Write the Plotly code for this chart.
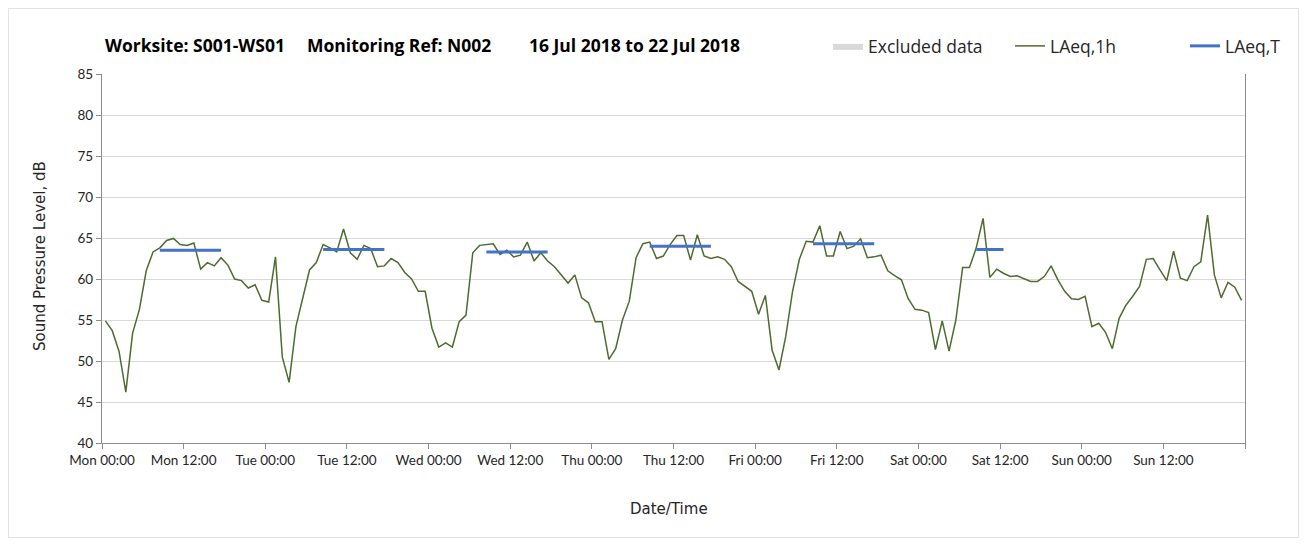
import datetime as dt
import plotly.graph_objects as go

# Hourly LAeq,1h values (dB), one list per day, hour 00..23
mon = [54.9, 53.7, 51.2, 46.2, 53.4, 56.3, 61.0, 63.3, 63.8, 64.7, 64.95, 64.2,
       64.1, 64.4, 61.2, 62.0, 61.6, 62.6, 61.7, 60.0, 59.8, 58.9, 59.3, 57.4]
tue = [57.2, 62.7, 50.5, 47.4, 54.2, 57.5, 61.1, 62.0, 64.2, 63.8, 63.3, 66.1,
       63.2, 62.4, 64.1, 63.7, 61.5, 61.6, 62.5, 62.0, 60.8, 60.0, 58.5, 58.5]
wed = [54.0, 51.7, 52.2, 51.7, 54.8, 55.6, 63.2, 64.1, 64.2, 64.3, 63.0, 63.5,
       62.7, 62.9, 64.5, 62.2, 63.2, 62.2, 61.5, 60.5, 59.5, 60.5, 57.7, 57.1]
thu = [54.8, 54.8, 50.2, 51.5, 55.0, 57.3, 62.6, 64.3, 64.5, 62.5, 62.8, 64.2,
       65.3, 65.3, 62.3, 65.4, 62.8, 62.5, 62.7, 62.4, 61.5, 59.7, 59.1, 58.5]
fri = [55.7, 58.0, 51.3, 48.9, 53.0, 58.5, 62.4, 64.6, 64.5, 66.5, 62.8, 62.8,
       65.8, 63.7, 64.0, 64.9, 62.6, 62.7, 62.9, 61.0, 60.4, 59.9, 57.6, 56.3]
sat = [56.2, 55.9, 51.4, 54.9, 51.2, 55.0, 61.4, 61.4, 63.8, 67.4, 60.2, 61.2,
       60.7, 60.3, 60.4, 60.0, 59.7, 59.7, 60.3, 61.6, 59.9, 58.5, 57.6, 57.5]
sun = [57.9, 54.2, 54.6, 53.5, 51.5, 55.2, 56.8, 57.9, 59.1, 62.4, 62.5, 61.1,
       59.8, 63.4, 60.1, 59.8, 61.5, 62.1, 67.8, 60.5, 57.7, 59.6, 59.0, 57.4]

# LAeq,T per day (dB) with the assessment period hours (first hour, last hour)
laeq_t_days = [0, 1, 2, 3, 4, 5]
laeq_t_vals = [63.5, 63.6, 63.3, 64.0, 64.3, 63.6]
laeq_t_first = [8, 8, 8, 8, 8, 8]
laeq_t_last = [17, 17, 17, 17, 17, 12]

# x tick labels (every 12 h), last tick at the end of the week is unlabeled
tick_labels = ["Mon 00:00", "Mon 12:00", "Tue 00:00", "Tue 12:00", "Wed 00:00",
               "Wed 12:00", "Thu 00:00", "Thu 12:00", "Fri 00:00", "Fri 12:00",
               "Sat 00:00", "Sat 12:00", "Sun 00:00", "Sun 12:00", ""]

start = dt.datetime(2018, 7, 16)
hourly = mon + tue + wed + thu + fri + sat + sun
t_hour = [start + dt.timedelta(hours=h + 0.5) for h in range(len(hourly))]
tick_vals = [start + dt.timedelta(hours=12 * i) for i in range(len(tick_labels))]

tx, ty = [], []
for d, v, a, b in zip(laeq_t_days, laeq_t_vals, laeq_t_first, laeq_t_last):
    tx += [start + dt.timedelta(days=d, hours=a + 0.5),
           start + dt.timedelta(days=d, hours=b + 0.5), None]
    ty += [v, v, None]

TXT = "#262626"
GRID = "#d9d9d9"
AX = "#8c8c8c"
TICKF = dict(family="Lato, Open Sans, sans-serif", size=13.5, color=TXT)

fig = go.Figure()
fig.add_trace(go.Scatter(x=[None], y=[None], name="Excluded data", mode="lines",
                         fill="toself", fillcolor=GRID, line=dict(width=0, color=GRID),
                         legend="legend"))
fig.add_trace(go.Scatter(x=t_hour, y=hourly, name="LAeq,1h", mode="lines",
                         line=dict(color="#4f6b2f", width=1.5), legend="legend2"))
fig.add_trace(go.Scatter(x=tx, y=ty, name="LAeq,T", mode="lines",
                         line=dict(color="#4472c4", width=3), legend="legend3"))

for d in range(1, 7):
    fig.add_vline(x=start + dt.timedelta(days=d), line=dict(color=GRID, width=1.3), layer="below")

# page body has an 8 px margin: figure occupies screen 8..1299 x 8..538
OFF = 8
FW, FH = 1307 - 2 * OFF, 546 - 2 * OFF
SL, SR, ST, SB = 102, 1245, 74, 443     # plot area in screen px
PW, PH = SR - SL, SB - ST


def px(x):
    return (x - SL) / PW


def py(y):
    return (SB - y) / PH


legfont = dict(family="Open Sans, Lato, sans-serif", size=17.5, color=TXT)
leg = dict(orientation="h", yanchor="middle", xanchor="left", y=py(46), font=legfont,
           bgcolor="rgba(0,0,0,0)", borderwidth=0, itemwidth=30)

fig.update_layout(
    width=FW, height=FH,
    margin=dict(l=SL - OFF, r=OFF + FW - SR, t=ST - OFF, b=OFF + FH - SB, pad=0),
    paper_bgcolor="white", plot_bgcolor="white",
    showlegend=True,
    legend=dict(leg, x=px(828)),
    legend2=dict(leg, x=px(1010)),
    legend3=dict(leg, x=px(1185)),
    xaxis=dict(type="date", range=[start, start + dt.timedelta(days=7)],
               tickmode="array", tickvals=tick_vals, ticktext=tick_labels,
               showgrid=False, zeroline=False, showline=True, linecolor=AX, linewidth=1.3,
               ticks="outside", ticklen=5, tickcolor=AX, tickfont=TICKF),
    yaxis=dict(range=[40, 85], dtick=5, showgrid=True, gridcolor=GRID, gridwidth=1.3,
               zeroline=False, showline=True, linecolor=AX, linewidth=1.3, mirror=True,
               ticks="outside", ticklen=5, tickcolor=AX, tickfont=TICKF),
    shapes=[dict(type="rect", xref="paper", yref="paper", x0=px(8.5), x1=px(1298.5),
                 y0=py(537.5), y1=py(8.5), line=dict(color="#e3e3e3", width=1), layer="below")],
)

title_font = dict(family="Open Sans, Lato, sans-serif", size=17.5, color="#000000")
for txt, xx in [("<b>Worksite: S001-WS01</b>", 103), ("<b>Monitoring Ref: N002</b>", 305),
                ("<b>16 Jul 2018 to 22 Jul 2018</b>", 527)]:
    fig.add_annotation(text=txt, xref="paper", yref="paper", x=px(xx), y=py(45),
                       xanchor="left", yanchor="middle", showarrow=False, font=title_font)

fig.add_annotation(text="Sound Pressure Level, dB", xref="paper", yref="paper",
                   x=px(40), y=py(256), textangle=-90, xanchor="center", yanchor="middle",
                   showarrow=False, font=dict(family="DejaVu Sans, sans-serif", size=15, color=TXT))
fig.add_annotation(text="Date/Time", xref="paper", yref="paper", x=px(669), y=py(509),
                   xanchor="center", yanchor="middle", showarrow=False,
                   font=dict(family="DejaVu Sans, sans-serif", size=15, color=TXT))

fig.write_html("out.html")
